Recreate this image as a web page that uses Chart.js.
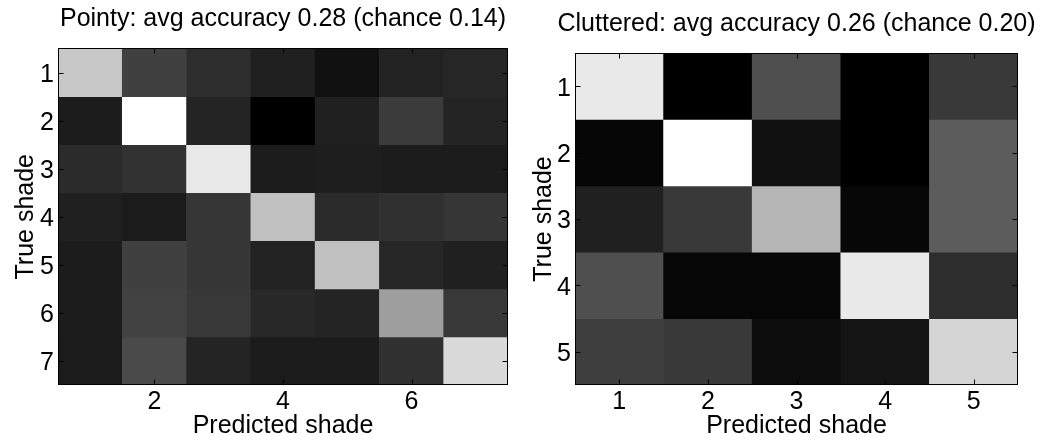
<!DOCTYPE html>
<html><head><meta charset="utf-8">
<script src="https://cdn.jsdelivr.net/npm/chart.js@4.4.1/dist/chart.umd.min.js"></script>
<style>
html,body{margin:0;padding:0;background:#fff;}
#wrap{position:relative;width:1041px;height:441px;overflow:hidden;background:#fff;}
canvas{position:absolute;top:0;}
</style></head><body>
<div id="wrap">
<canvas id="c1" width="520" height="441" style="left:0;width:520px;height:441px"></canvas>
<canvas id="c2" width="553" height="441" style="left:520px;width:553px;height:441px"></canvas>
</div>
<script>
const FONT = "'Liberation Sans', Arial, Helvetica, sans-serif";

// Pointy: rows = true shade, columns = predicted shade (fraction of answers)
const pointyCategories = [1, 2, 3, 4, 5, 6, 7];
const pointyXTicks = [2, 4, 6];
const pointyYTicks = [1, 2, 3, 4, 5, 6, 7];
const pointyAccuracy = [
  [0.273, 0.145, 0.127, 0.115, 0.100, 0.117, 0.121],
  [0.111, 0.325, 0.119, 0.085, 0.115, 0.141, 0.119],
  [0.125, 0.132, 0.303, 0.111, 0.113, 0.111, 0.111],
  [0.115, 0.110, 0.136, 0.266, 0.125, 0.130, 0.136],
  [0.111, 0.145, 0.136, 0.117, 0.266, 0.121, 0.115],
  [0.111, 0.147, 0.138, 0.123, 0.119, 0.234, 0.138],
  [0.110, 0.155, 0.119, 0.110, 0.110, 0.130, 0.290]
];

// Cluttered
const clutteredCategories = [1, 2, 3, 4, 5];
const clutteredXTicks = [1, 2, 3, 4, 5];
const clutteredYTicks = [1, 2, 3, 4, 5];
const clutteredAccuracy = [
  [0.264, 0.170, 0.202, 0.170, 0.193],
  [0.172, 0.273, 0.177, 0.170, 0.207],
  [0.183, 0.193, 0.243, 0.173, 0.207],
  [0.202, 0.173, 0.173, 0.264, 0.188],
  [0.195, 0.193, 0.175, 0.178, 0.256]
];

const pointyTitle = 'Pointy: avg accuracy 0.28 (chance 0.14)';
const clutteredTitle = 'Cluttered: avg accuracy 0.26 (chance 0.20)';
const xAxisTitle = 'Predicted shade';
const yAxisTitle = 'True shade';

function grayFor(v, lo, hi) {
  const g = Math.round((v - lo) / (hi - lo) * 255);
  return 'rgb(' + g + ',' + g + ',' + g + ')';
}

const framePlugin = {
  id: 'frame',
  afterDatasetsDraw(chart) {
    const ctx = chart.ctx, a = chart.chartArea, x = chart.scales.x, y = chart.scales.y;
    const L = 5;
    const l = Math.floor(a.left) + 0.5, r = Math.ceil(a.right) - 0.5;
    const t = Math.floor(a.top) + 0.5, b = Math.ceil(a.bottom) - 0.5;
    ctx.save();
    ctx.strokeStyle = '#000';
    ctx.lineWidth = 1;
    ctx.beginPath();
    x.ticks.forEach((tk, i) => {
      const p = Math.round(x.getPixelForTick(i)) + 0.5;
      ctx.moveTo(p, b); ctx.lineTo(p, b - L);
      ctx.moveTo(p, t); ctx.lineTo(p, t + L);
    });
    y.ticks.forEach((tk, i) => {
      const p = Math.round(y.getPixelForTick(i)) + 0.5;
      ctx.moveTo(l, p); ctx.lineTo(l + L, p);
      ctx.moveTo(r, p); ctx.lineTo(r - L, p);
    });
    ctx.stroke();
    ctx.strokeRect(l, t, r - l, b - t);
    ctx.restore();
  }
};

function makeChart(id, cats, matrix, xTicks, yTicks, title, g) {
  const flat = matrix.flat();
  const lo = Math.min(...flat), hi = Math.max(...flat);
  const datasets = matrix.map((row, ri) => ({
    data: row.map((v, ci) => ({ x: cats[ci], y: [cats[ri] - 0.5, cats[ri] + 0.5] })),
    backgroundColor: row.map(v => grayFor(v, lo, hi)),
    borderWidth: 0,
    barPercentage: 1,
    categoryPercentage: 1,
    grouped: false
  }));
  const tickFont = { family: FONT, size: 25 };
  const scales = {
    x: {
      type: 'linear', offset: false,
      min: cats[0] - 0.5, max: cats[cats.length - 1] + 0.5,
      afterBuildTicks: s => { s.ticks = xTicks.map(v => ({ value: v })); },
      afterFit: s => { s.height = g.xHeight; },
      grid: { display: false, drawTicks: false },
      border: { display: false },
      ticks: { color: '#000', font: tickFont, padding: 2.5, maxRotation: 0, autoSkip: false },
      title: { display: true, text: xAxisTitle, color: '#000', font: tickFont, padding: { top: 0, bottom: 0 } }
    },
    y: {
      type: 'linear', reverse: true,
      min: cats[0] - 0.5, max: cats[cats.length - 1] + 0.5,
      afterBuildTicks: s => { s.ticks = yTicks.map(v => ({ value: v })); },
      afterFit: s => { s.width = g.yWidth; },
      grid: { display: false, drawTicks: false },
      border: { display: false },
      ticks: { color: '#000', font: tickFont, padding: 4, labelOffset: 2.5, autoSkip: false },
      title: { display: true, text: yAxisTitle, color: '#000', font: tickFont, padding: { top: g.yTitlePad, bottom: 0 } }
    }
  };
  if (g.rightSpace) {
    // empty spacer axis so the full-width title is centred over the plot
    scales.spacer = {
      type: 'linear', position: 'right', display: true,
      grid: { display: false, drawTicks: false },
      border: { display: false },
      ticks: { display: false },
      afterFit: s => { s.width = g.rightSpace; }
    };
  }
  return new Chart(document.getElementById(id), {
    type: 'bar',
    data: { datasets },
    options: {
      responsive: false,
      animation: false,
      events: [],
      layout: { padding: { left: 0, top: 0, right: g.padRight, bottom: 0 } },
      plugins: {
        legend: { display: false },
        tooltip: { enabled: false },
        title: {
          display: true, text: title, color: '#000', fullSize: g.titleFull,
          font: { family: FONT, size: 25, weight: 'normal' },
          padding: { top: g.titleTop, bottom: g.titleBottom }
        }
      },
      scales
    },
    plugins: [framePlugin]
  });
}

makeChart('c1', pointyCategories, pointyAccuracy, pointyXTicks, pointyYTicks, pointyTitle,
  { padRight: 12, yWidth: 58, xHeight: 56, titleTop: 4.2, titleBottom: 14.3, yTitlePad: 11, titleFull: false, rightSpace: 0 });
makeChart('c2', clutteredCategories, clutteredAccuracy, clutteredXTicks, clutteredYTicks, clutteredTitle,
  { padRight: 0, yWidth: 55, xHeight: 56, titleTop: 9.2, titleBottom: 13.8, yTitlePad: 9, titleFull: true, rightSpace: 55 });
</script>
</body></html>
